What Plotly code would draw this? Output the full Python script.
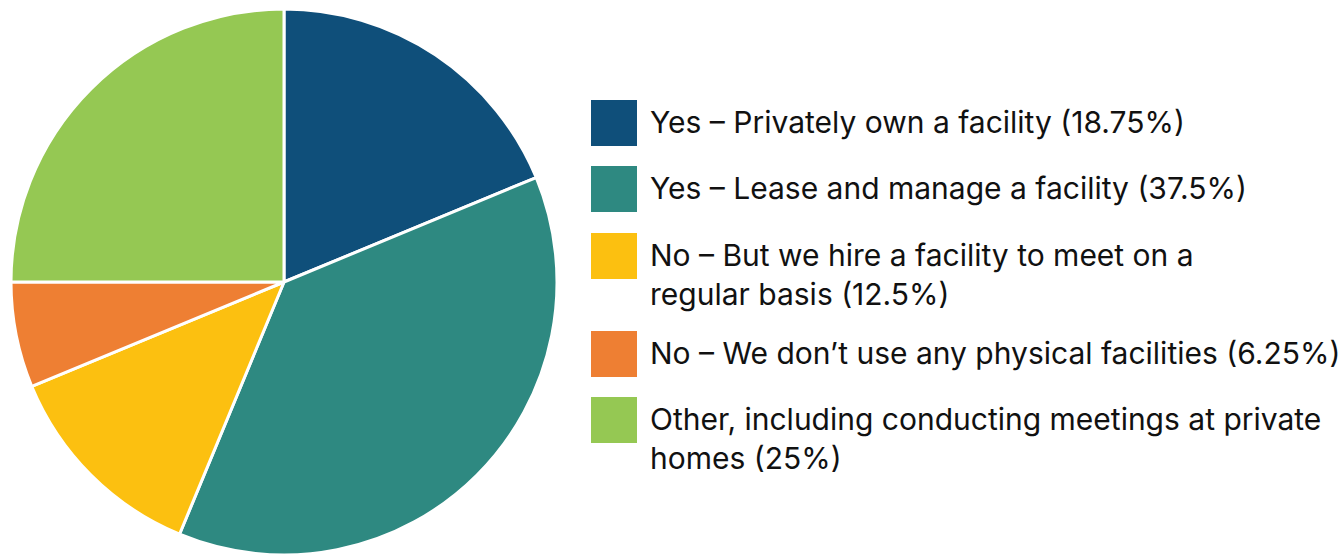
import plotly.graph_objects as go

# Survey answers: share of respondents per facility arrangement
categories = [
    "Yes – Privately own a facility",
    "Yes – Lease and manage a facility",
    "No – But we hire a facility to meet on a<br>regular basis",
    "No – We don’t use any physical facilities",
    "Other, including conducting meetings at private<br>homes",
]
shares = [18.75, 37.5, 12.5, 6.25, 25]
colors = ["#0F4F7A", "#2E8981", "#FCC010", "#EE7F33", "#95C853"]

W, H = 1342, 555
FONT = "Inter"

fig = go.Figure(
    go.Pie(
        labels=categories,
        values=shares,
        sort=False,
        direction="clockwise",
        rotation=0,
        marker=dict(colors=colors, line=dict(color="white", width=3)),
        textinfo="none",
        hoverinfo="label+percent",
        showlegend=False,
        domain=dict(x=[11 / W, 557 / W], y=[0, 1 - 9 / H]),
    )
)

# Custom legend: large colour swatches with wrapped labels beside them
swatch_centers = [123, 189, 256, 354, 420]
shapes, annotations = [], []
for name, val, col, cy in zip(categories, shares, colors, swatch_centers):
    shapes.append(dict(
        type="rect", xref="paper", yref="paper",
        x0=591 / W, x1=637 / W,
        y0=1 - (cy + 23) / H, y1=1 - (cy - 23) / H,
        fillcolor=col, line=dict(width=0),
    ))
    annotations.append(dict(
        xref="paper", yref="paper",
        x=648 / W, y=1 - (cy - 21) / H,
        xanchor="left", yanchor="top", align="left",
        text=f"{name} ({val:g}%)",
        showarrow=False,
        font=dict(family=FONT, size=30, color="#111111"),
    ))

fig.update_layout(
    width=W, height=H,
    margin=dict(l=0, r=0, t=0, b=0),
    paper_bgcolor="white", plot_bgcolor="white",
    shapes=shapes, annotations=annotations,
)

fig.write_html("out.html")
